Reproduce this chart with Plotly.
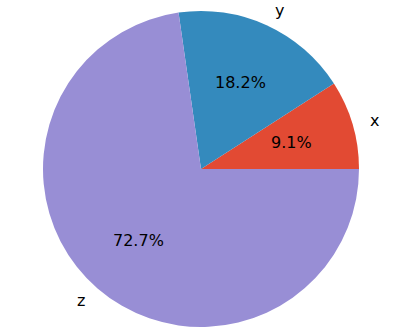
import math
import plotly.graph_objects as go

labels = ["x", "y", "z"]
values = [1, 2, 8]
colors = ["#E24A33", "#348ABD", "#988ED5"]

W, H = 400, 331
cx, cy_top, R = 201, 169, 158
cy = H - cy_top

dom_x = [(cx - R) / W, (cx + R) / W]
dom_y = [(cy - R) / H, (cy + R) / H]

total = sum(values)
first_frac = values[0] / total

fig = go.Figure(go.Pie(
    labels=labels, values=values, sort=False,
    direction="counterclockwise", rotation=90 - 360 * first_frac,
    marker=dict(colors=colors, line=dict(width=0)),
    textinfo="none", hoverinfo="label+percent",
    domain=dict(x=dom_x, y=dom_y), showlegend=False,
))

ann = []
start = 0.0
font = dict(family="DejaVu Sans", size=16, color="black")
for lab, v in zip(labels, values):
    frac = v / total
    mid = (start + frac / 2) * 2 * math.pi
    start += frac
    c, s = math.cos(mid), math.sin(mid)
    ann.append(dict(x=(cx + 0.6 * R * c) / W, y=(cy + 0.6 * R * s) / H,
                    xref="paper", yref="paper", text=f"{frac*100:.1f}%",
                    showarrow=False, xanchor="center", yanchor="middle", font=font))
    ann.append(dict(x=(cx + 1.1 * R * c) / W, y=(cy + 1.1 * R * s) / H,
                    xref="paper", yref="paper", text=lab,
                    showarrow=False, xanchor="left" if c > 0 else "right",
                    yanchor="middle", font=font))

fig.update_layout(width=W, height=H, margin=dict(l=0, r=0, t=0, b=0),
                  paper_bgcolor="white", plot_bgcolor="white", annotations=ann)
fig.write_html("out.html", config={"displayModeBar": False},
               post_script="document.body.style.margin='0';document.body.style.overflow='hidden';")
